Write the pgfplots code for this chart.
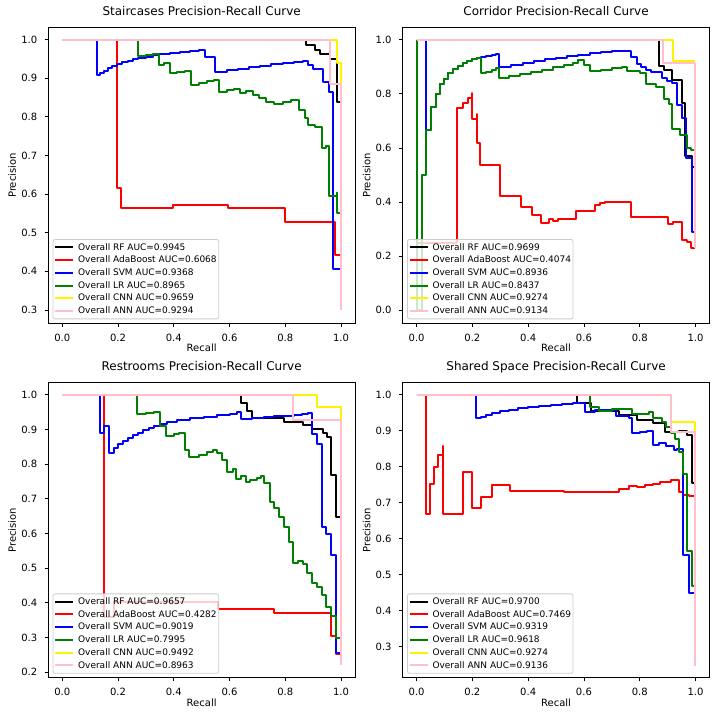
\documentclass[border=0pt]{standalone}
\usepackage{fontspec}
\setmainfont{DejaVu Sans}
\usepackage{pgfplots}
\pgfplotsset{compat=1.18}
\definecolor{mplgreen}{rgb}{0,0.5,0}
\definecolor{mplpink}{rgb}{1,0.753,0.796}
\definecolor{legframe}{gray}{0.8}
\pgfplotsset{
 prc/.style={
  scale only axis, width=306.7pt,
  xmin=-0.05, xmax=1.05,
  xtick={0,0.2,0.4,0.6,0.8,1},
  /pgf/number format/assume math mode=true,
  xticklabel style={/pgf/number format/fixed, /pgf/number format/fixed zerofill, /pgf/number format/precision=1},
  yticklabel style={/pgf/number format/fixed, /pgf/number format/fixed zerofill, /pgf/number format/precision=1},
  tick label style={font=\fontsize{10}{12}\selectfont, inner sep=0pt},
  xticklabel shift=6.8pt, yticklabel shift=7.4pt,
  label style={font=\fontsize{10}{12}\selectfont},
  title style={font=\fontsize{12}{14}\selectfont, at={(0.5,1)}, anchor=base, yshift=6pt, inner sep=0pt},
  xlabel={Recall}, ylabel={Precision},
  xlabel style={inner sep=0pt},
  ylabel style={inner sep=0pt},
  xlabel shift=2.5pt, ylabel shift=5pt,
  tick align=outside, major tick length=3.5pt,
  xtick pos=bottom, ytick pos=left,
  axis line style={line width=0.8pt},
  every tick/.style={black, line width=0.8pt},
  legend cell align=left,
  legend style={at={(0,0)}, anchor=south west, xshift=4.4pt, yshift=4pt,
    draw=legframe, line width=0.8pt, fill=white, fill opacity=0.8, text opacity=1, draw opacity=1,
    rounded corners=2pt, font=\fontsize{9}{10.8}\selectfont,
    inner xsep=1pt, inner ysep=1.5pt, row sep=0pt, column sep=3pt,
    nodes={inner xsep=1pt, inner ysep=2.2pt}},
  legend image code/.code={\draw[#1, line width=2pt] (0pt,0pt) -- (18pt,0pt);},
  every axis plot/.append style={line width=2pt, const plot, line join=round},
 }
}
\begin{document}
\begin{tikzpicture}
\useasboundingbox (0,0) rectangle (720pt,720pt);
% ---------------- Staircases
\begin{axis}[prc, at={(48.3pt,396.7pt)}, anchor=south west, height=295.6pt,
  ymin=0.2655, ymax=1.031, ytick={0.3,0.4,0.5,0.6,0.7,0.8,0.9,1.0},
  title={Staircases Precision-Recall Curve}]
\addplot[black] coordinates {(0,1) (0.873,0.986) (0.907,0.973) (0.925,0.962) (0.960,0.950) (0.984,0.839) (1.0,0.839)};
\addlegendentry{Overall RF AUC=0.9945}
\addplot[red] coordinates {(0,1) (0.197,0.615) (0.212,0.565) (0.397,0.571) (0.596,0.565) (0.799,0.529) (0.980,0.442) (1.0,0.442)};
\addlegendentry{Overall AdaBoost AUC=0.6068}
\addplot[blue] coordinates {(0,1) (0.125,0.909) (0.137,0.913) (0.150,0.920) (0.165,0.926) (0.180,0.931) (0.197,0.937) (0.215,0.941) (0.235,0.946) (0.255,0.950) (0.272,0.953) (0.300,0.956) (0.325,0.960) (0.348,0.963) (0.385,0.965) (0.423,0.968) (0.460,0.970) (0.490,0.972) (0.513,0.954) (0.549,0.917) (0.590,0.921) (0.630,0.925) (0.670,0.929) (0.710,0.932) (0.750,0.936) (0.790,0.939) (0.830,0.942) (0.865,0.945) (0.883,0.934) (0.898,0.923) (0.936,0.891) (0.958,0.865) (0.972,0.405) (1.0,0.405)};
\addlegendentry{Overall SVM AUC=0.9368}
\addplot[mplgreen] coordinates {(0,1) (0.272,0.958) (0.300,0.960) (0.325,0.963) (0.348,0.934) (0.365,0.939) (0.385,0.913) (0.410,0.916) (0.440,0.920) (0.462,0.883) (0.490,0.888) (0.520,0.892) (0.545,0.896) (0.561,0.865) (0.590,0.869) (0.615,0.873) (0.636,0.861) (0.660,0.867) (0.683,0.857) (0.707,0.848) (0.731,0.839) (0.760,0.833) (0.790,0.838) (0.820,0.843) (0.849,0.818) (0.871,0.796) (0.883,0.779) (0.907,0.775) (0.931,0.720) (0.945,0.725) (0.958,0.596) (0.984,0.604) (0.984,0.552) (1.0,0.552)};
\addlegendentry{Overall LR AUC=0.8965}
\addplot[yellow] coordinates {(0,1) (0.984,0.940) (1.0,0.887)};
\addlegendentry{Overall CNN AUC=0.9659}
\addplot[mplpink] coordinates {(0,1) (0.960,0.884) (1.0,0.300)};
\addlegendentry{Overall ANN AUC=0.9294}
\end{axis}
% ---------------- Corridor
\begin{axis}[prc, at={(402.7pt,396.7pt)}, anchor=south west, height=295.6pt,
  ymin=-0.049, ymax=1.045, ytick={0,0.2,0.4,0.6,0.8,1.0},
  title={Corridor Precision-Recall Curve}]
\addplot[black] coordinates {(0,1) (0.871,0.904) (0.887,0.889) (0.916,0.852) (0.952,0.768) (0.964,0.569) (0.986,0.529) (1.0,0.529)};
\addlegendentry{Overall RF AUC=0.9699}
\addplot[red] coordinates {(0,1) (0,0.250) (0.146,0.747) (0.165,0.766) (0.183,0.785) (0.197,0.803) (0.197,0.707) (0.216,0.725) (0.216,0.620) (0.228,0.537) (0.298,0.422) (0.376,0.381) (0.413,0.353) (0.445,0.323) (0.476,0.338) (0.488,0.330) (0.508,0.338) (0.573,0.365) (0.641,0.387) (0.656,0.397) (0.674,0.399) (0.769,0.346) (0.903,0.320) (0.920,0.326) (0.953,0.259) (0.970,0.253) (0.984,0.228) (1.0,0.228)};
\addlegendentry{Overall AdaBoost AUC=0.4074}
\addplot[blue] coordinates {(0,1) (0.033,0.667) (0.051,0.750) (0.069,0.800) (0.085,0.836) (0.099,0.855) (0.114,0.877) (0.132,0.891) (0.149,0.904) (0.167,0.914) (0.182,0.920) (0.200,0.928) (0.215,0.932) (0.230,0.936) (0.250,0.940) (0.270,0.944) (0.285,0.948) (0.296,0.901) (0.340,0.908) (0.380,0.915) (0.420,0.922) (0.460,0.928) (0.500,0.934) (0.540,0.940) (0.580,0.945) (0.620,0.950) (0.660,0.954) (0.700,0.957) (0.735,0.959) (0.767,0.938) (0.789,0.910) (0.805,0.899) (0.824,0.889) (0.839,0.880) (0.880,0.858) (0.898,0.846) (0.916,0.840) (0.932,0.760) (0.952,0.710) (0.966,0.562) (0.986,0.290) (1.0,0.290)};
\addlegendentry{Overall SVM AUC=0.8936}
\addplot[mplgreen] coordinates {(0,1) (0,0) (0.019,0.501) (0.033,0.667) (0.051,0.750) (0.069,0.800) (0.085,0.836) (0.099,0.855) (0.114,0.877) (0.132,0.891) (0.149,0.904) (0.167,0.914) (0.182,0.920) (0.200,0.928) (0.215,0.932) (0.230,0.877) (0.250,0.882) (0.270,0.889) (0.285,0.895) (0.296,0.858) (0.330,0.865) (0.370,0.873) (0.410,0.881) (0.450,0.889) (0.490,0.898) (0.530,0.907) (0.560,0.916) (0.580,0.924) (0.600,0.908) (0.621,0.883) (0.660,0.890) (0.700,0.896) (0.735,0.901) (0.755,0.885) (0.800,0.877) (0.821,0.836) (0.857,0.827) (0.887,0.781) (0.904,0.763) (0.916,0.670) (0.946,0.649) (0.968,0.599) (0.984,0.591) (0.994,0.591)};
\addlegendentry{Overall LR AUC=0.8437}
\addplot[yellow] coordinates {(0,1) (0.919,0.920) (1.0,0.920)};
\addlegendentry{Overall CNN AUC=0.9274}
\addplot[mplpink] coordinates {(0,1) (0.884,0.916) (1.0,0.228)};
\addlegendentry{Overall ANN AUC=0.9134}
\end{axis}
% ---------------- Restrooms
\begin{axis}[prc, at={(48.3pt,42.3pt)}, anchor=south west, height=295pt,
  ymin=0.1844, ymax=1.0346, ytick={0.2,0.3,0.4,0.5,0.6,0.7,0.8,0.9,1.0},
  title={Restrooms Precision-Recall Curve}]
\addplot[black] coordinates {(0,1) (0.642,0.975) (0.662,0.953) (0.680,0.932) (0.797,0.922) (0.865,0.913) (0.895,0.900) (0.934,0.889) (0.948,0.877) (0.964,0.769) (0.981,0.647) (1.0,0.647)};
\addlegendentry{Overall RF AUC=0.9657}
\addplot[red] coordinates {(0,1) (0.149,0.360) (0.185,0.404) (0.558,0.382) (0.760,0.370) (0.963,0.305) (0.981,0.253) (1.0,0.253)};
\addlegendentry{Overall AdaBoost AUC=0.4282}
\addplot[blue] coordinates {(0,1) (0.134,0.890) (0.151,0.911) (0.168,0.833) (0.185,0.845) (0.200,0.857) (0.217,0.867) (0.236,0.876) (0.253,0.884) (0.272,0.890) (0.290,0.898) (0.310,0.905) (0.328,0.911) (0.352,0.916) (0.376,0.920) (0.412,0.926) (0.459,0.932) (0.507,0.937) (0.555,0.941) (0.602,0.945) (0.625,0.949) (0.640,0.929) (0.680,0.932) (0.722,0.935) (0.760,0.938) (0.793,0.940) (0.830,0.942) (0.860,0.944) (0.880,0.946) (0.895,0.886) (0.913,0.858) (0.930,0.620) (0.946,0.598) (0.963,0.538) (0.981,0.255) (1.0,0.255)};
\addlegendentry{Overall SVM AUC=0.9019}
\addplot[mplgreen] coordinates {(0,1) (0.268,0.943) (0.300,0.947) (0.330,0.951) (0.352,0.911) (0.373,0.882) (0.400,0.887) (0.420,0.891) (0.441,0.841) (0.456,0.820) (0.490,0.826) (0.520,0.834) (0.540,0.840) (0.555,0.831) (0.573,0.812) (0.590,0.778) (0.612,0.786) (0.624,0.756) (0.642,0.767) (0.660,0.749) (0.674,0.754) (0.698,0.759) (0.712,0.765) (0.725,0.745) (0.746,0.690) (0.761,0.674) (0.779,0.648) (0.797,0.620) (0.815,0.576) (0.827,0.514) (0.847,0.522) (0.863,0.512) (0.879,0.485) (0.895,0.458) (0.913,0.447) (0.930,0.423) (0.946,0.389) (0.963,0.362) (0.981,0.298) (1.0,0.298)};
\addlegendentry{Overall LR AUC=0.7995}
\addplot[yellow] coordinates {(0,1) (0.913,0.965) (1.0,0.927)};
\addlegendentry{Overall CNN AUC=0.9492}
\addplot[mplpink] coordinates {(0,1) (0.827,0.927) (1.0,0.221)};
\addlegendentry{Overall ANN AUC=0.8963}
\end{axis}
% ---------------- Shared Space
\begin{axis}[prc, at={(402.7pt,42.3pt)}, anchor=south west, height=295pt,
  ymin=0.214, ymax=1.0333, ytick={0.3,0.4,0.5,0.6,0.7,0.8,0.9,1.0},
  title={Shared Space Precision-Recall Curve}]
\addplot[black] coordinates {(0,1) (0.576,0.976) (0.624,0.955) (0.726,0.943) (0.789,0.929) (0.820,0.931) (0.849,0.920) (0.892,0.895) (0.920,0.897) (0.940,0.899) (0.970,0.889) (0.986,0.755) (1.0,0.755)};
\addlegendentry{Overall RF AUC=0.9700}
\addplot[red] coordinates {(0,1) (0.033,0.668) (0.048,0.751) (0.061,0.800) (0.075,0.832) (0.093,0.858) (0.093,0.668) (0.168,0.784) (0.197,0.686) (0.230,0.717) (0.272,0.749) (0.334,0.732) (0.528,0.730) (0.726,0.738) (0.761,0.746) (0.789,0.744) (0.820,0.748) (0.849,0.752) (0.873,0.757) (0.911,0.762) (0.925,0.764) (0.940,0.729) (0.956,0.722) (0.978,0.718) (0.994,0.718)};
\addlegendentry{Overall AdaBoost AUC=0.7469}
\addplot[blue] coordinates {(0,1) (0.212,0.934) (0.230,0.939) (0.250,0.944) (0.270,0.948) (0.300,0.954) (0.330,0.958) (0.362,0.962) (0.400,0.965) (0.440,0.968) (0.481,0.970) (0.520,0.973) (0.560,0.976) (0.604,0.953) (0.640,0.957) (0.714,0.942) (0.761,0.935) (0.773,0.894) (0.800,0.897) (0.825,0.899) (0.849,0.861) (0.870,0.866) (0.896,0.857) (0.922,0.847) (0.935,0.849) (0.956,0.556) (0.978,0.449) (0.994,0.449)};
\addlegendentry{Overall SVM AUC=0.9319}
\addplot[mplgreen] coordinates {(0,1) (0.621,0.967) (0.654,0.956) (0.700,0.960) (0.773,0.945) (0.833,0.951) (0.848,0.936) (0.881,0.923) (0.896,0.910) (0.911,0.894) (0.925,0.877) (0.940,0.840) (0.956,0.780) (0.970,0.565) (0.986,0.470) (0.994,0.470)};
\addlegendentry{Overall LR AUC=0.9618}
\addplot[yellow] coordinates {(0,1) (0.911,0.925) (1.0,0.897)};
\addlegendentry{Overall CNN AUC=0.9274}
\addplot[mplpink] coordinates {(0,1) (0.911,0.897) (1.0,0.247)};
\addlegendentry{Overall ANN AUC=0.9136}
\end{axis}
\end{tikzpicture}
\end{document}
